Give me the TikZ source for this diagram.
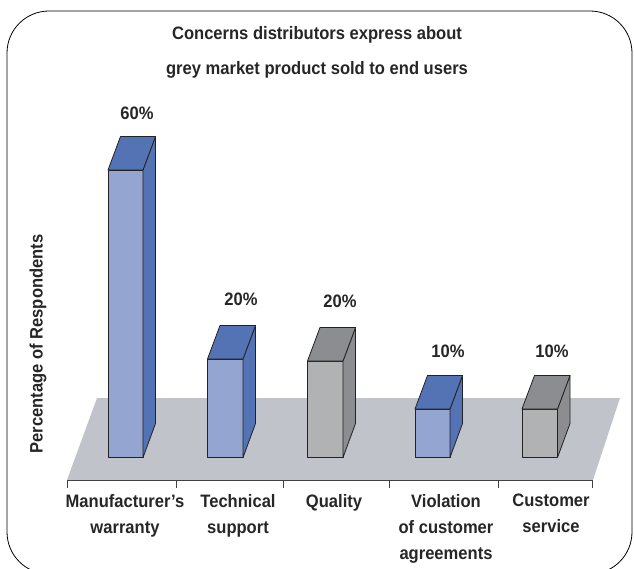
\documentclass[tikz,border=0pt]{standalone}
\usepackage{fontspec}
\setmainfont{Liberation Sans}[FakeStretch=0.92]
\definecolor{floorc}{HTML}{C0C4CA}
\definecolor{bluef}{HTML}{95A5D1}
\definecolor{blues}{HTML}{5473B5}
\definecolor{greyf}{HTML}{B1B2B4}
\definecolor{greys}{HTML}{8C8D90}
\definecolor{edgec}{HTML}{222222}
\tikzset{
  face/.style={draw=edgec, line width=0.8pt, line join=round},
  lbl/.style={font=\bfseries\fontsize{18}{26}\selectfont, text=black!85, align=center, inner sep=0pt},
  pct/.style={font=\bfseries\fontsize{18}{20}\selectfont, text=black!85, inner sep=0pt},
  ttl/.style={font=\bfseries\fontsize{18}{35}\selectfont, text=black!85, align=center, inner sep=0pt},
  axisline/.style={draw=black!75, line width=0.8pt}
}
\newcommand{\mybar}[5]{% x0, x1, top, front colour, side colour
  \fill[#4, face] (#1,457.5) rectangle (#2,#3);
  \fill[#5, face] (#2,457.5) -- ++(12.5,-34) -- (#2+12.5,#3-33.5) -- (#2,#3) -- cycle;
  \fill[#5, face] (#1,#3) -- ++(12.5,-33.5) -- (#2+12.5,#3-33.5) -- (#2,#3) -- cycle;
}
\begin{document}
\begin{tikzpicture}[x=1pt,y=-1pt]
\useasboundingbox (0,0) rectangle (634,569);
\begin{scope}
\clip (0,0) rectangle (634,569);
\draw[line width=0.8pt, rounded corners=42pt] (7,11) rectangle (632,574);
\end{scope}
% title
\node[ttl, anchor=north] (title) at (317,26.5) {Concerns distributors express about\\grey market product sold to end users};
% floor
\fill[floorc] (97,398) -- (620,398) -- (593,480) -- (67,480) -- cycle;
% axis
\draw[axisline] (67,480) -- (592,480);
\foreach \x in {67,176,283,389,498,592}{
  \draw[axisline] (\x,480) -- (\x,487.5);
}
% bars
\mybar{108}{143}{170}{bluef}{blues}
\mybar{207.5}{243}{359}{bluef}{blues}
\mybar{307.5}{343}{361}{greyf}{greys}
\mybar{415}{450}{409}{bluef}{blues}
\mybar{522}{557.5}{409}{greyf}{greys}
% percentages
\node[pct] (p1) at (137,113) {60\%};
\node[pct] (p2) at (241,299) {20\%};
\node[pct] (p3) at (340,301) {20\%};
\node[pct] (p4) at (448,351) {10\%};
\node[pct] (p5) at (552,351) {10\%};
% categories
\node[lbl, anchor=north] (c1) at (125,494) {Manufacturer’s\\warranty};
\node[lbl, anchor=north] (c2) at (238,494) {Technical\\support};
\node[lbl, anchor=north] (c3) at (334,494) {Quality};
\node[lbl, anchor=north] (c4) at (446,494) {Violation\\of customer\\agreements};
\node[lbl, anchor=north] (c5) at (551,494) {Customer\\service};
% y label
\node[lbl, rotate=90] (ylab) at (38,344) {Percentage of Respondents};
\end{tikzpicture}
\end{document}
